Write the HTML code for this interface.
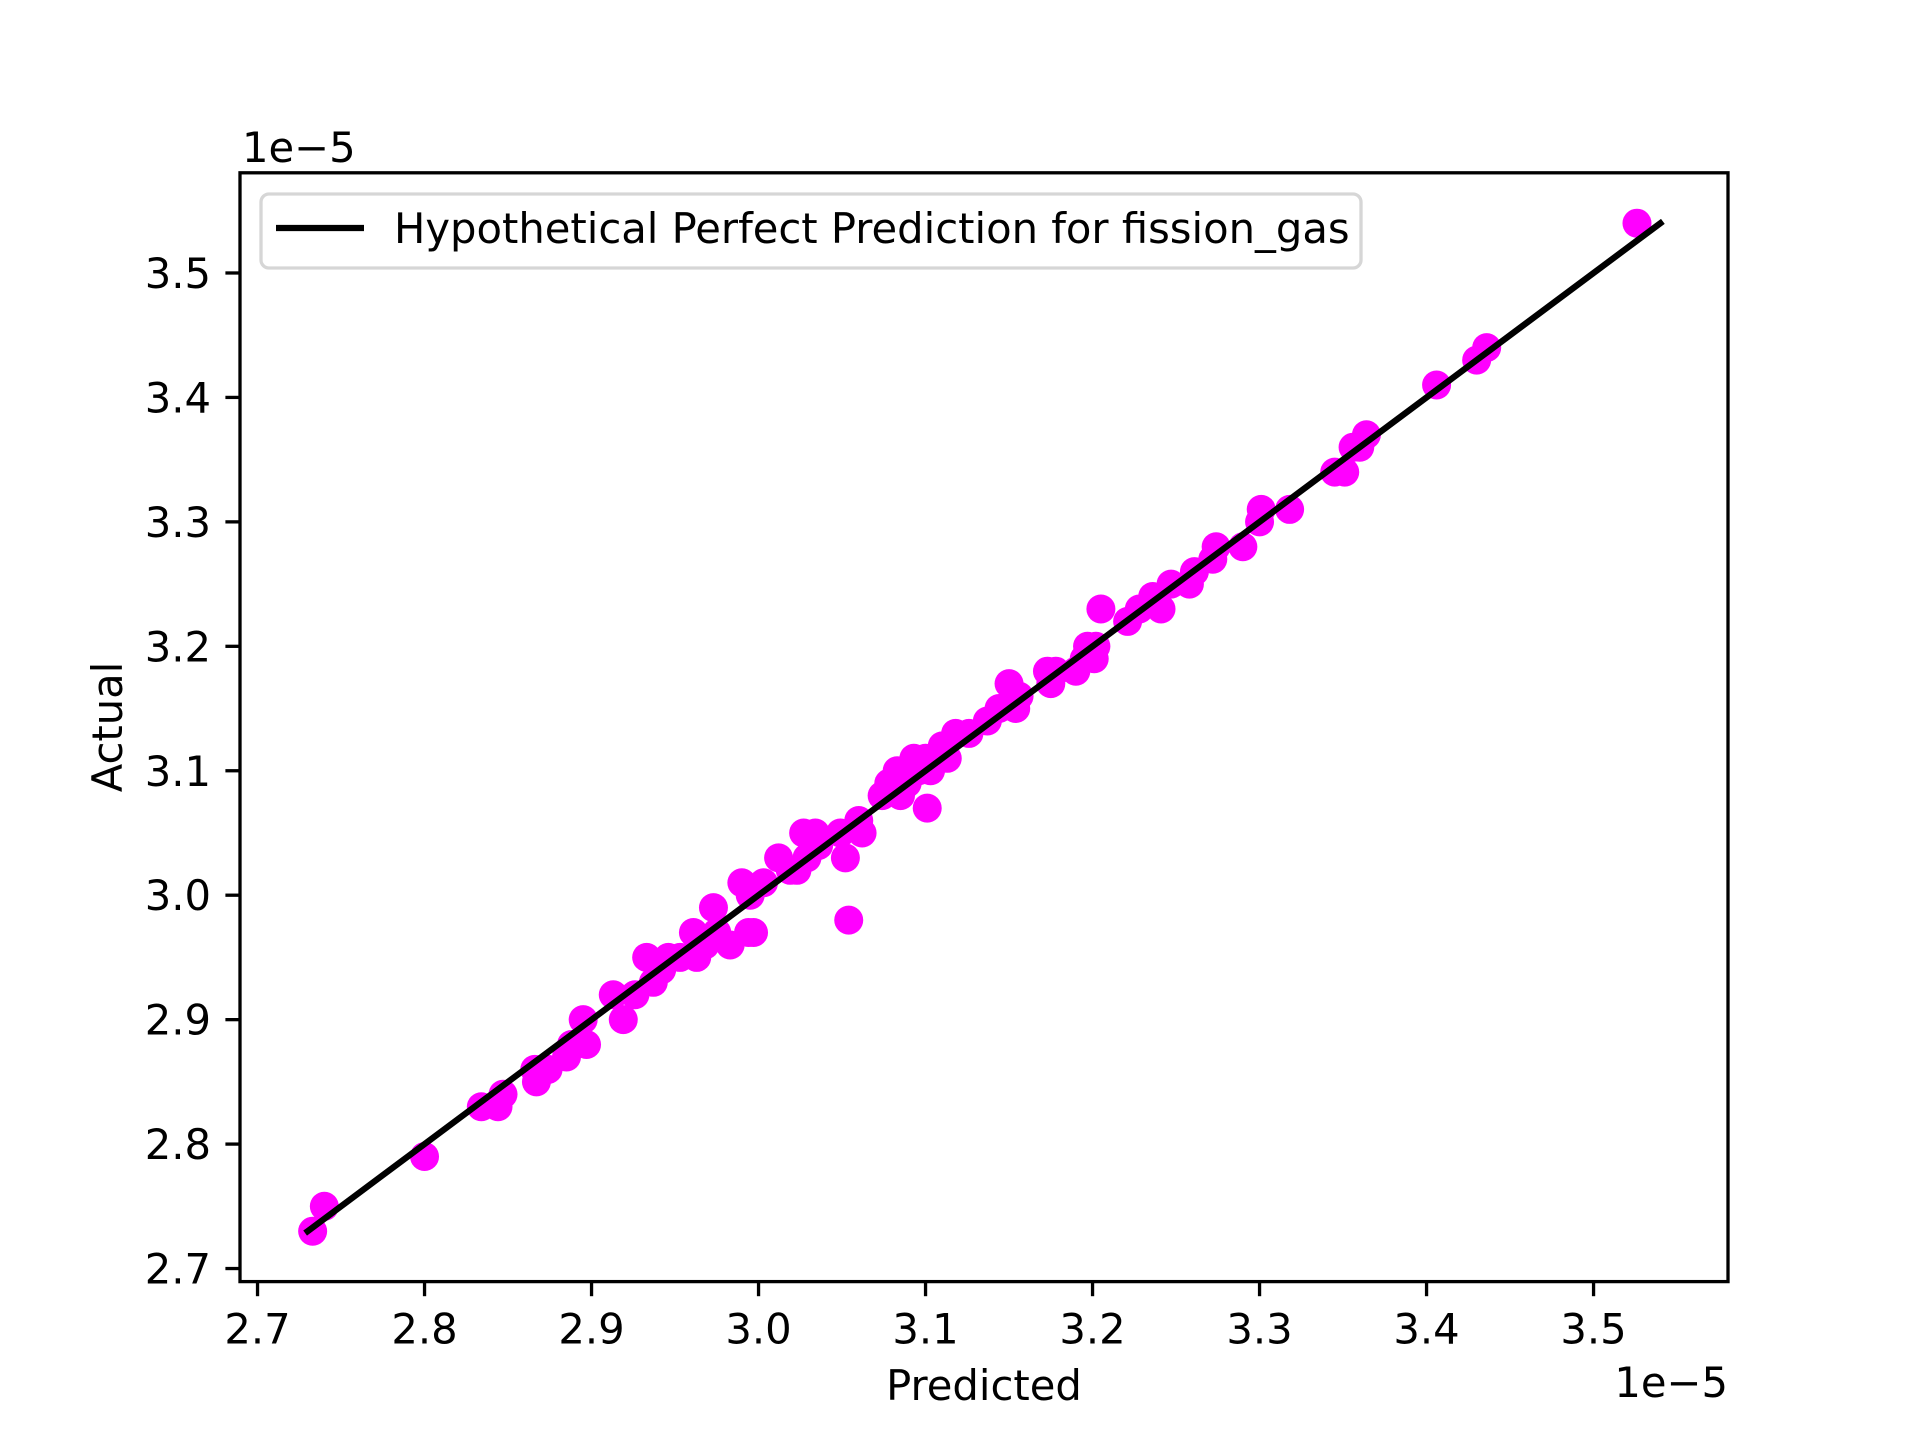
<!DOCTYPE html>
<html><head><meta charset="utf-8"><style>
html,body{margin:0;padding:0;background:#fff;}
svg{display:block;font-family:"DejaVu Sans","Liberation Sans",sans-serif;}
</style></head><body>
<svg id="chart" width="1920" height="1440" viewBox="0 0 1920 1440" xmlns="http://www.w3.org/2000/svg">
<rect width="1920" height="1440" fill="#fff"/>
<g id="points"></g>
<g id="line"></g>
<g id="axes"></g>
<g id="legend">
  <rect x="261" y="194" width="1100" height="74" rx="8" fill="#fff" fill-opacity="0.8" stroke="#d6d6d6" stroke-width="3.3"/>
  <line x1="276" y1="228" x2="364" y2="228" stroke="#000" stroke-width="6.25"/>
  <text x="394" y="243" font-size="41.7">Hypothetical Perfect Prediction for fission_gas</text>
</g>
<text x="242" y="162" font-size="41.7">1e−5</text>
<text x="1728" y="1397" font-size="41.7" text-anchor="end">1e−5</text>
<text x="984" y="1400" font-size="41.7" text-anchor="middle">Predicted</text>
<text x="0" y="0" font-size="41.7" text-anchor="middle" transform="translate(122,727) rotate(-90)">Actual</text>
</svg>
<script>
const xPred = [2.733,2.740,2.800,2.834,2.844,2.847,2.866,2.867,2.874,2.885,2.888,2.895,2.897,2.913,2.919,2.926,2.933,2.937,2.942,2.946,2.953,2.961,2.963,2.968,2.973,2.975,2.983,2.990,2.994,2.997,2.995,3.003,3.012,3.019,3.023,3.027,3.029,3.034,3.036,3.049,3.052,3.054,3.060,3.062,3.074,3.078,3.083,3.085,3.089,3.093,3.096,3.101,3.100,3.103,3.110,3.113,3.118,3.126,3.137,3.144,3.150,3.154,3.156,3.173,3.175,3.178,3.190,3.195,3.197,3.201,3.202,3.205,3.221,3.228,3.236,3.241,3.247,3.258,3.261,3.272,3.274,3.290,3.300,3.301,3.318,3.345,3.351,3.356,3.360,3.364,3.406,3.430,3.436,3.526];
const yActual = [2.73,2.75,2.79,2.83,2.83,2.84,2.86,2.85,2.86,2.87,2.88,2.90,2.88,2.92,2.90,2.92,2.95,2.93,2.94,2.95,2.95,2.97,2.95,2.96,2.99,2.97,2.96,3.01,2.97,2.97,3.00,3.01,3.03,3.02,3.02,3.05,3.03,3.05,3.04,3.05,3.03,2.98,3.06,3.05,3.08,3.09,3.10,3.08,3.09,3.11,3.10,3.07,3.11,3.10,3.12,3.11,3.13,3.13,3.14,3.15,3.17,3.15,3.16,3.18,3.17,3.18,3.18,3.19,3.20,3.19,3.20,3.23,3.22,3.23,3.24,3.23,3.25,3.25,3.26,3.27,3.28,3.28,3.30,3.31,3.31,3.34,3.34,3.36,3.36,3.37,3.41,3.43,3.44,3.54];
const lineX = [2.73, 3.54];
const lineY = [2.73, 3.54];
const xTicks = [2.7,2.8,2.9,3.0,3.1,3.2,3.3,3.4,3.5];
const yTicks = [2.7,2.8,2.9,3.0,3.1,3.2,3.3,3.4,3.5];

const NS = "http://www.w3.org/2000/svg";
const L=240,R=1728,T=172.8,B=1281.6;
const xmin=2.6895,xmax=3.5805,ymin=2.6895,ymax=3.5805;
const sx=v=>L+(v-xmin)/(xmax-xmin)*(R-L);
const sy=v=>B-(v-ymin)/(ymax-ymin)*(B-T);
function mk(tag,attrs,parent){const e=document.createElementNS(NS,tag);for(const k in attrs)e.setAttribute(k,attrs[k]);parent.appendChild(e);return e;}

const pg=document.getElementById('points');
xPred.forEach((x,i)=>{
  const c=mk('circle',{cx:sx(x),cy:sy(yActual[i]),r:14.5,fill:'#ff00ff'},pg);
  
  
});
const lg=document.getElementById('line');
const ln=mk('polyline',{points:lineX.map((x,i)=>sx(x)+','+sy(lineY[i])).join(' '),fill:'none',stroke:'#000','stroke-width':6.25,'stroke-linecap':'square'},lg);



const ag=document.getElementById('axes');
const frame=mk('rect',{x:L,y:T,width:R-L,height:B-T,fill:'none',stroke:'#000','stroke-width':3.3},ag);


xTicks.forEach(v=>{
  const t=mk('line',{x1:sx(v),y1:B,x2:sx(v),y2:B+14.6,stroke:'#000','stroke-width':3.3},ag);
  
  
  const lb=mk('text',{x:sx(v),y:B+62,'font-size':41.7,'text-anchor':'middle'},ag);
  lb.textContent=v.toFixed(1);
  
  
});
yTicks.forEach(v=>{
  const t=mk('line',{x1:L,y1:sy(v),x2:L-14.6,y2:sy(v),stroke:'#000','stroke-width':3.3},ag);
  
  
  const lb=mk('text',{x:L-29,y:sy(v)+15,'font-size':41.7,'text-anchor':'end'},ag);
  lb.textContent=v.toFixed(1);
  
  
});
</script>
</body></html>
